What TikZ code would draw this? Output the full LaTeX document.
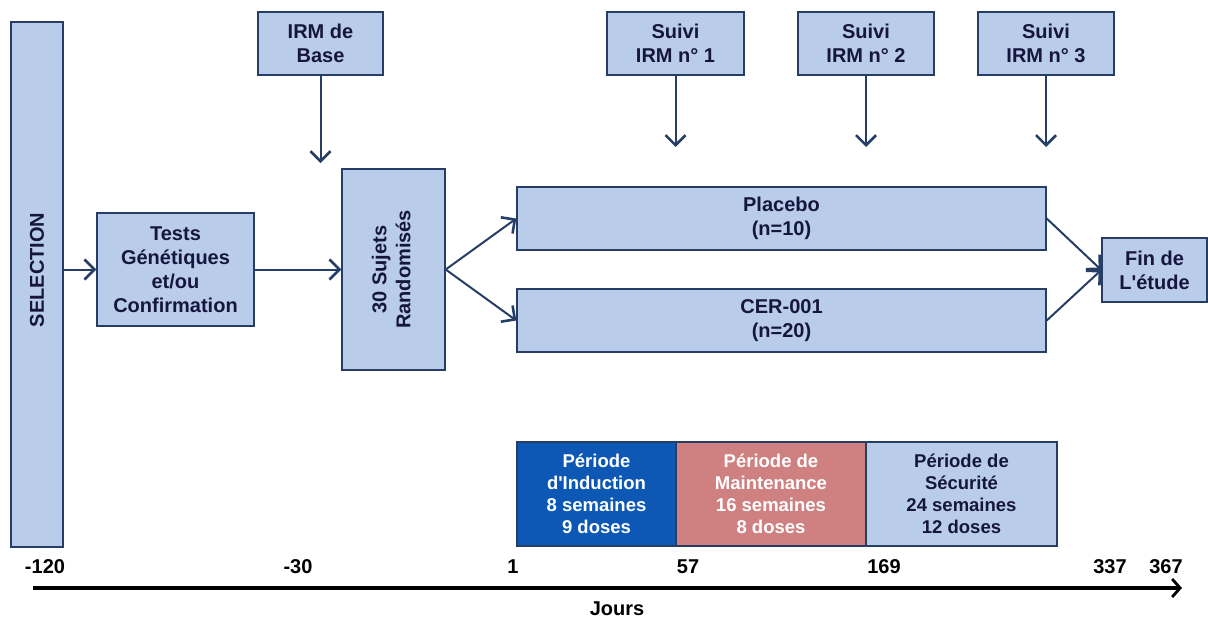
\documentclass[tikz,border=0pt]{standalone}
\usepackage{fontspec}
\setmainfont{Liberation Sans}
\usepackage{graphicx}
\usetikzlibrary{arrows.meta}
\definecolor{lb}{HTML}{B9CDEB}
\definecolor{bd}{HTML}{263E66}
\definecolor{tx}{HTML}{16163C}
\definecolor{dblue}{HTML}{0D58B4}
\definecolor{pink}{HTML}{CF8080}
\begin{document}
\begin{tikzpicture}[x=1pt,y=-1pt,
  box/.style={draw=bd, fill=lb, line width=1.4pt, inner sep=0pt, text=tx,
    font=\bfseries\fontsize{20}{24}\selectfont, align=center},
  pbox/.style={box, font=\bfseries\fontsize{18.5}{22}\selectfont},
  conn/.style={draw=bd, line width=2pt, -{Straight Barb[length=10pt,width=20pt,line width=2.6pt]}},
  tick/.style={font=\bfseries\fontsize{20}{24}\selectfont, text=black, inner sep=0pt}]
\useasboundingbox (0,0) rectangle (1208,619);
% left column
\node[box, minimum width=52, minimum height=525] (sel) at (37,284.5) {};
\node[rotate=90, text=tx, font=\bfseries\fontsize{20}{24}\selectfont, inner sep=0pt] (seltxt) at (37,270) {SELECTION};
\node[box, minimum width=157, minimum height=113] (tests) at (175.5,269.5) {Tests\\Génétiques\\et/ou\\Confirmation};
\node[box, minimum width=125, minimum height=63] (irm) at (320.5,43.5) {IRM de\\Base};
\node[box, minimum width=103, minimum height=201] (suj) at (393.5,269.5)
  {\rotatebox{90}{\begin{tabular}{@{}c@{}}30 Sujets\\Randomisés\end{tabular}}};
% arms
\node[box, minimum width=529, minimum height=63] (plac) at (781.5,218.5) {Placebo\\(n=10)};
\node[box, minimum width=529, minimum height=63] (cer) at (781.5,320.5) {CER-001\\(n=20)};
\node[box, minimum width=105, minimum height=64] (fin) at (1154.5,270) {Fin de\\L\textquotesingle étude};
% follow-up MRI
\node[box, minimum width=137, minimum height=63] (s1) at (675.5,43.5) {Suivi\\IRM n° 1};
\node[box, minimum width=136, minimum height=63] (s2) at (866,43.5) {Suivi\\IRM n° 2};
\node[box, minimum width=136, minimum height=63] (s3) at (1046,43.5) {Suivi\\IRM n° 3};
\coordinate (irmEnd) at (320.5,163);
\coordinate (s1End) at (675.5,147);
\coordinate (s2End) at (866,147);
\coordinate (s3End) at (1046,147);
% periods
\node[pbox, fill=dblue, text=white, minimum width=159, minimum height=104] (ind) at (596.5,494) {Période\\d\textquotesingle Induction\\8 semaines\\9 doses};
\node[pbox, fill=pink, text=white, minimum width=190, minimum height=104] (mai) at (771,494) {Période de\\Maintenance\\16 semaines\\8 doses};
\node[pbox, minimum width=191, minimum height=104] (sec) at (961.5,494) {Période de\\Sécurité\\24 semaines\\12 doses};
% connectors
\draw[conn] (sel.east |- tests.west) -- (tests.west);
\draw[conn] (tests.east) -- (suj.west);
\draw[conn] (irm.south) -- (irmEnd);
\draw[conn] (s1.south) -- (s1End);
\draw[conn] (s2.south) -- (s2End);
\draw[conn] (s3.south) -- (s3End);
\draw[conn] (suj.east) -- (plac.west);
\draw[conn] (suj.east) -- (cer.west);
\draw[conn] (plac.east) -- (fin.west);
\draw[conn] (cer.east) -- (fin.west);
% timeline
\coordinate (ax0) at (33,588);
\coordinate (ax1) at (1182,588);
\draw[black, line width=3.2pt, -{Straight Barb[length=8pt,width=18pt,line width=2.8pt]}] (ax0) -- (ax1);
\node[tick] (t1) at (45,567) {-120};
\node[tick] (t2) at (298,567) {-30};
\node[tick] (t3) at (513,567) {1};
\node[tick] (t4) at (688,567) {57};
\node[tick] (t5) at (884,567) {169};
\node[tick] (t6) at (1110,567) {337};
\node[tick] (t7) at (1166,567) {367};
\node[tick] (jours) at (617,609) {Jours};
\end{tikzpicture}
\end{document}
